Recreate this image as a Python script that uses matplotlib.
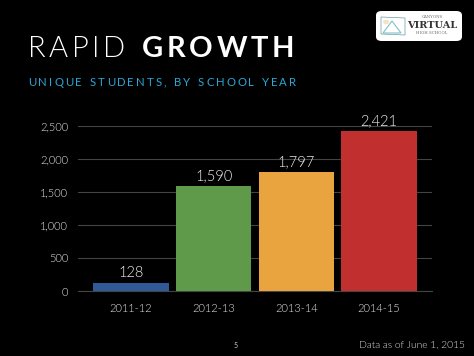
import matplotlib
matplotlib.use("Agg")
import matplotlib.pyplot as plt
from matplotlib.patches import FancyBboxPatch, Polygon, Circle

categories = ["2011-12", "2012-13", "2013-14", "2014-15"]
values = [128, 1590, 1797, 2421]
colors = ["#2f5a97", "#5e9a4a", "#e9a43f", "#c1302f"]
yticks = [0, 500, 1000, 1500, 2000, 2500]
title_light = "RAPID "
title_bold = "GROWTH"
subtitle = "UNIQUE STUDENTS, BY SCHOOL YEAR"
footnote = "Data as of June 1, 2015"
page = "5"

W, H = 474, 356
fig = plt.figure(figsize=(W / 100, H / 100), dpi=100, facecolor="black")
ax = fig.add_axes([78 / W, 1 - 291 / H, (432 - 78) / W, (291 - 126) / H * 1.0])
ax.set_facecolor("black")
x = list(range(len(categories)))
bars = ax.bar(x, values, width=0.91, color=colors, zorder=3)
ax.set_xlim(-0.64, 3.64)
ax.set_ylim(0, 2500)
ax.set_yticks(yticks)
ax.set_yticklabels([f"{v:,}" for v in yticks])
ax.set_xticks(x)
ax.set_xticklabels(categories)
ax.tick_params(axis="both", length=0, colors="#e6e6e6", labelsize=8)
ax.tick_params(axis="y", pad=7)
ax.tick_params(axis="x", pad=9)
for lab in ax.get_xticklabels() + ax.get_yticklabels():
    lab.set_fontfamily("Lato")
    lab.set_fontweight(300)
ax.grid(axis="y", color="#444444", linewidth=0.8, zorder=0)
ax.set_axisbelow(True)
for s in ["top", "right", "left"]:
    ax.spines[s].set_visible(False)
ax.spines["bottom"].set_color("#444444")
ax.spines["bottom"].set_linewidth(0.8)
for xi, v in zip(x, values):
    ax.text(xi, v + 45, f"{v:,}", ha="center", va="bottom", color="#f2f2f2",
            fontsize=10.5, fontfamily="Lato", fontweight=300)

# letter-spaced text helper
fig.canvas.draw()
renderer = fig.canvas.get_renderer()

def spaced(text, x0, y0, spacing, **kw):
    xp = x0
    for ch in text:
        t = fig.text(xp / W, 1 - y0 / H, ch, va="baseline", ha="left", **kw)
        if ch == " ":
            t2 = fig.text(0, 0, "n", **kw)
            w = t2.get_window_extent(renderer).width * 0.6
            t2.remove()
        else:
            w = t.get_window_extent(renderer).width
        xp += w + spacing
    return xp

xe = spaced(title_light, 28, 57, 3.4, color="white", fontsize=21, fontfamily="Lato", fontweight=300)
spaced(title_bold, xe + 1, 57, 3.6, color="white", fontsize=21, fontfamily="Lato", fontweight="bold")
spaced(subtitle, 28, 86, 2.0, color="#2aa7d6", fontsize=8.2, fontfamily="Lato")

fig.text(236 / W, 1 - 345 / H, page, color="#cccccc", fontsize=5, ha="center", va="center", fontfamily="Lato")
fig.text(465 / W, 1 - 345 / H, footnote, color="#e0e0e0", fontsize=7.4, ha="right", va="center",
         fontfamily="Lato", fontweight=300)

# logo
logo = FancyBboxPatch((376 / W, 1 - 41 / H), 86 / W, 30 / H,
                      boxstyle="round,pad=0,rounding_size=0.012",
                      transform=fig.transFigure, facecolor="white", edgecolor="none")
fig.patches.append(logo)
fig.patches.append(Circle((386 / W, 1 - 22 / H), 3 / W, transform=fig.transFigure,
                          facecolor="#f5e3c0", edgecolor="none"))
fig.patches.append(Polygon([(383 / W, 1 - 33 / H), (392 / W, 1 - 21 / H), (401 / W, 1 - 33 / H)],
                           closed=True, transform=fig.transFigure, facecolor="none",
                           edgecolor="#7fc2c8", linewidth=0.8))
fig.patches.append(Polygon([(381 / W, 1 - 17 / H), (405 / W, 1 - 18 / H), (405 / W, 1 - 35 / H), (381 / W, 1 - 34 / H)],
                           closed=True, transform=fig.transFigure, facecolor="none",
                           edgecolor="#6a9aa0", linewidth=0.5))
fig.text(432 / W, 1 - 17 / H, "CANYONS", color="#666666", fontsize=2.8, ha="center", va="center", fontfamily="DejaVu Serif")
fig.text(432 / W, 1 - 25 / H, "VIRTUAL", color="#333333", fontsize=7, ha="center", va="center",
         fontfamily="DejaVu Serif", fontweight="bold")
fig.text(432 / W, 1 - 33 / H, "HIGH SCHOOL", color="#666666", fontsize=2.8, ha="center", va="center", fontfamily="DejaVu Serif")

fig.savefig("out.png", dpi=100, facecolor="black")
